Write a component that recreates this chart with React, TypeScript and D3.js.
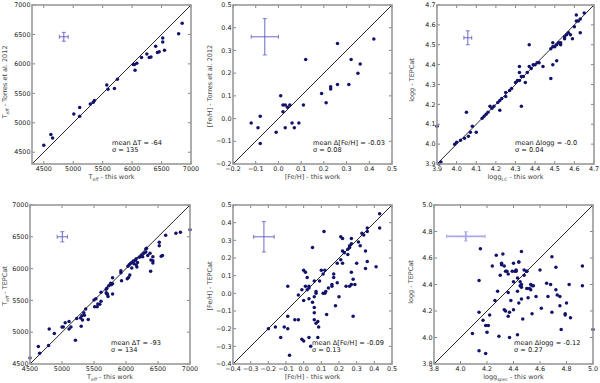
import React from "react";
import * as d3 from "d3";

// Teff: this work vs Torres et al. 2012
const teffThisTorres = [4500, 4620, 4650, 5010, 5110, 5110, 5290, 5340, 5360, 5570, 5590, 5700, 5750, 6020, 6040, 6050, 6080, 6160, 6250, 6290, 6320, 6400, 6430, 6460, 6520, 6520, 6550, 6790, 6850];
const teffTorres = [4620, 4800, 4740, 5150, 5260, 5110, 5320, 5350, 5380, 5640, 5570, 5580, 5740, 5990, 5990, 5890, 6010, 6110, 6170, 6110, 6115, 6300, 6195, 6205, 6440, 6370, 6230, 6510, 6690];

// [Fe/H]: this work vs Torres et al. 2012
const fehThisTorres = [-0.12, -0.09, -0.08, -0.08, -0.01, 0.01, 0.02, 0.02, 0.03, 0.03, 0.04, 0.05, 0.06, 0.07, 0.09, 0.11, 0.12, 0.19, 0.21, 0.23, 0.23, 0.26, 0.26, 0.31, 0.32, 0.35, 0.36, 0.42];
const fehTorres = [-0.02, -0.04, 0.01, -0.11, -0.06, 0.10, 0.03, 0.06, 0.06, -0.04, 0.05, 0.06, -0.02, -0.04, -0.02, 0.06, 0.26, 0.11, 0.07, 0.14, 0.13, 0.33, 0.15, 0.15, 0.26, 0.20, 0.24, 0.35];

// logg: light-curve vs TEPCat
const loggLC = [3.90, 3.91, 3.92, 3.99, 4.00, 4.02, 4.04, 4.05, 4.06, 4.07, 4.08, 4.10, 4.13, 4.14, 4.15, 4.16, 4.17, 4.18, 4.19, 4.21, 4.22, 4.22, 4.23, 4.25, 4.25, 4.27, 4.28, 4.30, 4.31, 4.32, 4.32, 4.32, 4.33, 4.33, 4.34, 4.35, 4.36, 4.37, 4.37, 4.38, 4.39, 4.40, 4.41, 4.42, 4.44, 4.48, 4.48, 4.49, 4.49, 4.49, 4.50, 4.51, 4.51, 4.52, 4.53, 4.53, 4.55, 4.55, 4.56, 4.57, 4.58, 4.59, 4.60, 4.61, 4.61, 4.62, 4.63, 4.63, 4.65];
const loggTepcatLC = [4.09, 3.90, 3.91, 4.00, 4.01, 4.02, 4.03, 4.16, 4.04, 4.06, 4.09, 4.06, 4.13, 4.14, 4.15, 4.16, 4.19, 4.18, 4.19, 4.21, 4.22, 4.17, 4.23, 4.24, 4.26, 4.27, 4.28, 4.31, 4.32, 4.36, 4.32, 4.39, 4.34, 4.19, 4.34, 4.31, 4.36, 4.50, 4.39, 4.38, 4.40, 4.40, 4.41, 4.41, 4.39, 4.33, 4.48, 4.40, 4.49, 4.51, 4.49, 4.42, 4.50, 4.51, 4.50, 4.51, 4.53, 4.54, 4.55, 4.56, 4.55, 4.53, 4.59, 4.62, 4.65, 4.62, 4.63, 4.56, 4.66];

// Teff: this work vs TEPCat
const teffThisTep = [4500, 4630, 4650, 4790, 4800, 4880, 5000, 5020, 5050, 5110, 5110, 5140, 5210, 5230, 5290, 5300, 5310, 5320, 5340, 5350, 5370, 5410, 5500, 5510, 5530, 5550, 5560, 5590, 5610, 5610, 5690, 5690, 5700, 5700, 5710, 5720, 5730, 5760, 5770, 5790, 5790, 5790, 5920, 5920, 5930, 6020, 6030, 6040, 6050, 6060, 6070, 6090, 6090, 6115, 6125, 6145, 6160, 6160, 6170, 6180, 6210, 6240, 6250, 6260, 6280, 6310, 6310, 6320, 6340, 6375, 6385, 6390, 6420, 6420, 6420, 6520, 6520, 6550, 6570, 6620, 6780, 6850, 7000];
const teffTepcat = [4595, 4775, 4670, 4790, 5050, 4980, 5080, 5080, 5150, 5050, 5170, 5080, 4875, 5215, 5225, 5095, 5260, 5190, 5305, 5265, 5365, 5200, 5505, 5400, 5525, 5400, 5445, 5440, 5485, 5630, 5620, 5675, 5690, 5600, 5600, 5560, 5730, 5770, 5745, 5760, 5855, 5600, 5965, 5935, 5810, 5840, 6035, 5860, 6060, 5900, 6080, 6095, 6010, 6120, 6075, 6130, 6155, 6055, 6025, 6095, 6180, 6200, 6215, 6185, 6240, 6310, 6260, 6320, 6205, 6240, 5960, 6135, 6125, 6090, 6185, 6360, 6415, 6195, 6205, 6525, 6555, 6570, 6610];

// [Fe/H]: this work vs TEPCat
const fehThisTep = [-0.20, -0.16, -0.13, -0.11, -0.09, -0.09, -0.09, -0.08, -0.05, -0.03, -0.03, -0.01, -0.01, 0.00, 0.00, 0.00, 0.01, 0.01, 0.02, 0.02, 0.03, 0.03, 0.03, 0.03, 0.04, 0.05, 0.05, 0.06, 0.06, 0.06, 0.06, 0.06, 0.07, 0.07, 0.07, 0.08, 0.08, 0.085, 0.09, 0.10, 0.11, 0.11, 0.115, 0.12, 0.12, 0.125, 0.13, 0.14, 0.16, 0.16, 0.17, 0.17, 0.18, 0.19, 0.19, 0.20, 0.21, 0.21, 0.22, 0.22, 0.22, 0.23, 0.24, 0.25, 0.25, 0.26, 0.26, 0.26, 0.27, 0.27, 0.27, 0.27, 0.28, 0.28, 0.29, 0.30, 0.31, 0.32, 0.33, 0.34, 0.35, 0.35, 0.36, 0.36, 0.36, 0.41, 0.43, 0.43];
const fehTepcat = [-0.20, -0.19, -0.25, -0.19, 0.04, -0.20, -0.13, -0.35, -0.15, -0.15, -0.01, 0.02, -0.26, -0.27, -0.04, 0.13, 0.12, 0.04, 0.09, 0.02, 0.03, -0.03, -0.25, 0.04, -0.30, -0.05, 0.26, -0.02, -0.08, -0.11, -0.15, 0.07, 0.00, -0.17, 0.01, -0.25, -0.16, -0.19, 0.07, 0.13, 0.00, 0.11, 0.35, 0.00, 0.13, 0.01, -0.12, 0.03, 0.05, 0.04, 0.09, 0.11, -0.07, 0.17, 0.06, -0.02, 0.32, 0.19, 0.31, 0.17, 0.24, 0.23, 0.04, 0.22, 0.25, 0.04, 0.26, 0.27, 0.12, 0.31, 0.28, 0.05, 0.08, -0.13, 0.05, 0.17, 0.29, 0.27, 0.34, 0.33, 0.14, 0.24, 0.35, 0.18, 0.37, 0.15, 0.37, 0.45, 0.36, 0.12];

// logg: spectroscopic vs TEPCat
const loggSpec = [4.09, 4.14, 4.14, 4.14, 4.15, 4.17, 4.19, 4.19, 4.20, 4.21, 4.22, 4.24, 4.26, 4.27, 4.28, 4.29, 4.30, 4.31, 4.31, 4.32, 4.33, 4.33, 4.34, 4.34, 4.35, 4.36, 4.36, 4.36, 4.37, 4.37, 4.38, 4.39, 4.40, 4.40, 4.40, 4.41, 4.42, 4.42, 4.43, 4.43, 4.43, 4.44, 4.44, 4.44, 4.45, 4.45, 4.46, 4.46, 4.46, 4.47, 4.46, 4.48, 4.48, 4.50, 4.50, 4.50, 4.51, 4.52, 4.53, 4.53, 4.54, 4.54, 4.55, 4.57, 4.60, 4.61, 4.65, 4.66, 4.68, 4.69, 4.69, 4.72, 4.72, 4.73, 4.75, 4.75, 4.76, 4.79, 4.79, 4.80, 4.82, 4.83, 4.92, 4.92, 5.00];
const loggTepcatSpec = [4.03, 3.90, 4.19, 4.43, 4.67, 4.13, 3.88, 4.09, 4.04, 4.09, 4.17, 4.54, 4.28, 4.62, 4.35, 4.01, 4.47, 4.56, 4.55, 4.63, 4.21, 4.54, 4.20, 4.50, 4.50, 4.48, 4.16, 4.34, 4.00, 4.19, 4.28, 4.50, 4.56, 4.42, 4.21, 4.50, 4.51, 4.50, 4.02, 4.45, 4.35, 4.57, 4.57, 4.26, 4.42, 4.39, 4.38, 4.40, 4.65, 4.14, 4.29, 4.51, 4.47, 4.37, 4.50, 4.50, 4.30, 4.37, 4.40, 4.36, 4.39, 4.18, 4.39, 4.31, 4.51, 4.22, 4.41, 4.31, 4.40, 4.61, 4.19, 4.53, 4.36, 4.32, 4.31, 4.24, 4.06, 4.17, 4.18, 4.26, 4.40, 4.15, 4.54, 4.39, 4.06];

const ticksTeff1 = [4500, 5000, 5500, 6000, 6500, 7000];
const ticksFeh1 = [-0.2, -0.1, 0.0, 0.1, 0.2, 0.3, 0.4, 0.5];
const ticksLogg1 = [3.9, 4.0, 4.1, 4.2, 4.3, 4.4, 4.5, 4.6, 4.7];
const ticksFeh2 = [-0.4, -0.3, -0.2, -0.1, 0.0, 0.1, 0.2, 0.3, 0.4, 0.5];
const ticksLogg2 = [3.8, 4.0, 4.2, 4.4, 4.6, 4.8, 5.0];

const dotColor = "#12126a";
const font = "DejaVu Sans, sans-serif";

type Lbl = { main: string; sub?: string; rest: string };

function Label({ l }: { l: Lbl }) {
  return (
    <>
      {l.main}
      {l.sub && (
        <tspan fontSize="0.7em" fontStyle="italic" dy="1.5">{l.sub}</tspan>
      )}
      <tspan dy={l.sub ? -1.5 : 0}>{l.rest}</tspan>
    </>
  );
}

function Panel(props: {
  left: number; top: number; w: number; h: number;
  domain: [number, number]; ticks: number[]; fmt: (v: number) => string;
  xs: number[]; ys: number[];
  err: { x: number; y: number; ex: number; ey: number; color: string; width: number };
  xLabel: Lbl; yLabel: Lbl; yLabelX: number; yLabelY: number;
  stat: [string, string]; statX: number; statY: number;
}) {
  const { left, top, w, h, domain } = props;
  const x = d3.scaleLinear().domain(domain).range([left, left + w]);
  const y = d3.scaleLinear().domain(domain).range([top + h, top]);
  const e = props.err;
  return (
    <g fontFamily={font}>
      <rect x={left} y={top} width={w} height={h} fill="white" />
      <line x1={x(domain[0])} y1={y(domain[0])} x2={x(domain[1])} y2={y(domain[1])} stroke="#111" strokeWidth={0.9} />
      {props.xs.map((v, i) => (
        <circle key={i} cx={x(v)} cy={y(props.ys[i])} r={1.75} fill={dotColor} />
      ))}
      <g stroke={e.color} strokeWidth={e.width}>
        <line x1={x(e.x - e.ex)} x2={x(e.x + e.ex)} y1={y(e.y)} y2={y(e.y)} />
        <line x1={x(e.x)} x2={x(e.x)} y1={y(e.y - e.ey)} y2={y(e.y + e.ey)} />
        <line x1={x(e.x - e.ex)} x2={x(e.x - e.ex)} y1={y(e.y) - 2} y2={y(e.y) + 2} strokeWidth={0.8} />
        <line x1={x(e.x + e.ex)} x2={x(e.x + e.ex)} y1={y(e.y) - 2} y2={y(e.y) + 2} strokeWidth={0.8} />
        <line x1={x(e.x) - 2} x2={x(e.x) + 2} y1={y(e.y - e.ey)} y2={y(e.y - e.ey)} strokeWidth={0.8} />
        <line x1={x(e.x) - 2} x2={x(e.x) + 2} y1={y(e.y + e.ey)} y2={y(e.y + e.ey)} strokeWidth={0.8} />
      </g>
      {props.ticks.map((t) => (
        <g key={t} stroke="#333" strokeWidth={0.6}>
          <line x1={x(t)} x2={x(t)} y1={top + h} y2={top + h - 3} />
          <line x1={x(t)} x2={x(t)} y1={top} y2={top + 3} />
          <line x1={left} x2={left + 3} y1={y(t)} y2={y(t)} />
          <line x1={left + w} x2={left + w - 3} y1={y(t)} y2={y(t)} />
        </g>
      ))}
      <rect x={left} y={top} width={w} height={h} fill="none" stroke="#999" strokeWidth={1.6} />
      {props.ticks.map((t) => (
        <g key={"l" + t} fontSize={6.4} fill="#222">
          <text x={x(t)} y={top + h + 6.8} textAnchor="middle">{props.fmt(t)}</text>
          <text x={left - 1.5} y={y(t) + 2.2} textAnchor="end">{props.fmt(t)}</text>
        </g>
      ))}
      <text x={left + w / 2} y={top + h + 15} textAnchor="middle" fontSize={6.5} fill="#444">
        <Label l={props.xLabel} />
      </text>
      <text transform={`translate(${props.yLabelX},${props.yLabelY}) rotate(-90)`} textAnchor="middle" fontSize={6.5} fill="#444">
        <Label l={props.yLabel} />
      </text>
      <text x={props.statX} y={props.statY} fontSize={6.6} fill="#111">{props.stat[0]}</text>
      <text x={props.statX} y={props.statY + 7} fontSize={6.6} fill="#111">{props.stat[1]}</text>
    </g>
  );
}

const fmtInt = (v: number) => d3.format("d")(v);
const fmt1 = (v: number) => d3.format(".1f")(v).replace("-", "\u2212");

export default function App() {
  const blue = "#5a5ac0";
  return (
    <svg width={600} height={383} style={{ position: "absolute", left: 0, top: 0, background: "white" }}>
      <Panel left={32} top={5} w={159} h={159} domain={[4300, 7000]} ticks={ticksTeff1} fmt={fmtInt}
        xs={teffThisTorres} ys={teffTorres}
        err={{ x: 4840, y: 6460, ex: 75, ey: 75, color: blue, width: 0.9 }}
        xLabel={{ main: "T", sub: "eff", rest: " - this work" }}
        yLabel={{ main: "T", sub: "eff", rest: " - Torres et al. 2012" }}
        yLabelX={7} yLabelY={82}
        stat={["mean \u0394T = -64", "\u03c3 = 135"]} statX={112} statY={145} />
      <Panel left={233} top={5} w={159} h={159} domain={[-0.2, 0.5]} ticks={ticksFeh1} fmt={fmt1}
        xs={fehThisTorres} ys={fehTorres}
        err={{ x: -0.06, y: 0.36, ex: 0.06, ey: 0.08, color: blue, width: 0.9 }}
        xLabel={{ main: "[Fe/H]", rest: " - this work" }}
        yLabel={{ main: "[Fe/H] - Torres et al. 2012", rest: "" }}
        yLabelX={212} yLabelY={86}
        stat={["mean \u0394[Fe/H] = -0.03", "\u03c3 = 0.08"]} statX={313} statY={145} />
      <Panel left={437} top={5} w={157} h={159} domain={[3.9, 4.7]} ticks={ticksLogg1} fmt={fmt1}
        xs={loggLC} ys={loggTepcatLC}
        err={{ x: 4.057, y: 4.535, ex: 0.02, ey: 0.035, color: blue, width: 0.9 }}
        xLabel={{ main: "logg", sub: "LC", rest: " - this work" }}
        yLabel={{ main: "logg - TEPCat", rest: "" }}
        yLabelX={414} yLabelY={80}
        stat={["mean \u0394logg = -0.0", "\u03c3 = 0.04"]} statX={515} statY={145} />
      <Panel left={30} top={205} w={160} h={159} domain={[4500, 7000]} ticks={ticksTeff1} fmt={fmtInt}
        xs={teffThisTep} ys={teffTepcat}
        err={{ x: 5005, y: 6500, ex: 80, ey: 80, color: blue, width: 0.9 }}
        xLabel={{ main: "T", sub: "eff", rest: " - this work" }}
        yLabel={{ main: "T", sub: "eff", rest: " - TEPCat" }}
        yLabelX={7} yLabelY={286}
        stat={["mean \u0394T = -93", "\u03c3 = 134"]} statX={111} statY={345} />
      <Panel left={233} top={205} w={159} h={159} domain={[-0.4, 0.5]} ticks={ticksFeh2} fmt={fmt1}
        xs={fehThisTep} ys={fehTepcat}
        err={{ x: -0.225, y: 0.32, ex: 0.058, ey: 0.086, color: blue, width: 0.9 }}
        xLabel={{ main: "[Fe/H]", rest: " - this work" }}
        yLabel={{ main: "[Fe/H] - TEPCat", rest: "" }}
        yLabelX={212} yLabelY={286}
        stat={["mean \u0394[Fe/H] = -0.09", "\u03c3 = 0.13"]} statX={312} statY={345} />
      <Panel left={434} top={205} w={159} h={159} domain={[3.8, 5.0]} ticks={ticksLogg2} fmt={fmt1}
        xs={loggSpec} ys={loggTepcatSpec}
        err={{ x: 4.04, y: 4.763, ex: 0.146, ey: 0.035, color: "#a8a8e8", width: 1.8 }}
        xLabel={{ main: "logg", sub: "spec", rest: " - this work" }}
        yLabel={{ main: "logg - TEPCat", rest: "" }}
        yLabelX={413} yLabelY={282}
        stat={["mean \u0394logg = -0.12", "\u03c3 = 0.27"]} statX={514} statY={345} />
    </svg>
  );
}
